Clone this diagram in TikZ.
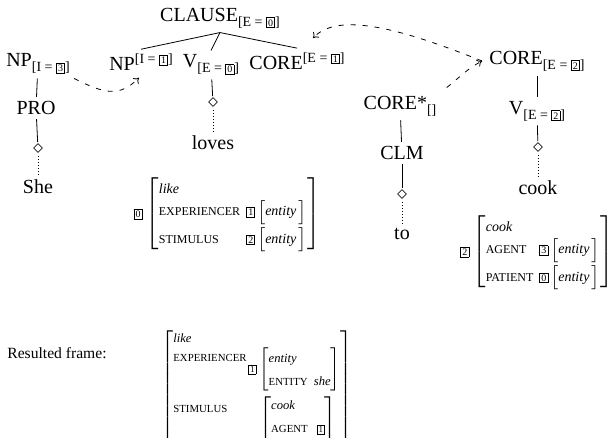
\documentclass[tikz,border=0pt]{standalone}
\usepackage{fontspec}
\setmainfont{Liberation Serif}
\usetikzlibrary{arrows.meta,positioning,calc}
\newcommand{\tg}[1]{{\setlength{\fboxsep}{0.6pt}\setlength{\fboxrule}{0.4pt}\fbox{\fontsize{5}{5}\selectfont#1}}}
\newcommand{\sub}[1]{\raisebox{-2.5pt}{\fontsize{7}{8}\selectfont#1}}
\newcommand{\supr}[1]{\raisebox{3.5pt}{\fontsize{7}{8}\selectfont#1}}
\newcommand{\attr}[1]{{\fontsize{6}{7}\selectfont#1}}
\newcommand{\val}[1]{{\fontsize{7}{8}\selectfont\itshape#1}}
\newcommand{\brk}[1]{$\left[\rule[-4.5pt]{0pt}{8pt}\right.\!$#1$\left.\rule[-4.5pt]{0pt}{8pt}\right]$}

\begin{document}
\begin{tikzpicture}[x=0.5pt, y=-0.5pt,
  lbl/.style={inner sep=2pt, font=\fontsize{10}{12}\selectfont},
  dmd/.style={inner sep=1pt, font=\fontsize{10}{12}\selectfont},
  avm/.style={inner sep=0pt, font=\fontsize{7}{13}\selectfont},
  leaf/.style={dash pattern=on 0.4pt off 1.1pt, line width=0.3pt},
  dasharr/.style={-{To[length=2.5pt,width=4pt]}, dash pattern=on 2.5pt off 3.5pt},
  >=To
]
  \useasboundingbox (0,0) rectangle (611,438);

  % Clause and its daughters
  \node[lbl] (clause) at (220,18) {CLAUSE\sub{[E = \tg{0}]}};
  \node[lbl] (np3) at (38,64) {NP\sub{[I = \tg{3}]}};
  \node[lbl] (np1) at (141,62) {NP\supr{[I = \tg{1}]}};
  \node[lbl] (v0) at (211,65) {V\sub{[E = \tg{0}]}};
  \node[lbl] (core1) at (297,61) {CORE\supr{[E = \tg{1}]}};

  % She
  \node[lbl] (pro) at (36,108) {PRO};
  \node[dmd] (d1) at (38,149) {$\diamond$};
  \node[lbl] (she) at (38,187) {She};

  % loves
  \node[dmd] (dv) at (213,103) {$\diamond$};
  \node[lbl] (loves) at (213,143) {loves};

  % embedded core
  \node[lbl] (corestar) at (400,106) {CORE*\sub{[]}};
  \node[lbl] (clm) at (402,153) {CLM};
  \node[dmd] (d3) at (402,195) {$\diamond$};
  \node[lbl] (to) at (402,234) {to};

  \node[lbl] (core2) at (537,61) {CORE\sub{[E = \tg{2}]}};
  \node[lbl] (v2) at (537,111) {V\sub{[E = \tg{2}]}};
  \node[dmd] (d2) at (538,148) {$\diamond$};
  \node[lbl] (cook) at (538,188) {cook};

  % Frames
  \node[avm] (frm0) at (227,214) {\tg{0}\hspace{1.5pt}$\left[\begin{tabular}{@{}l@{\hspace{3pt}}l@{}}
      \val{like} & \\[-2pt]
      \attr{EXPERIENCER} & \tg{1}\hspace{1pt}\brk{\val{entity}} \\
      \attr{STIMULUS} & \tg{2}\hspace{1pt}\brk{\val{entity}}
    \end{tabular}\right]$};
  \node[avm] (frm2) at (537,252) {\tg{2}\hspace{1.5pt}$\left[\begin{tabular}{@{}l@{\hspace{3pt}}l@{}}
      \val{cook} & \\[-2pt]
      \attr{AGENT} & \tg{3}\hspace{1pt}\brk{\val{entity}} \\
      \attr{PATIENT} & \tg{0}\hspace{1pt}\brk{\val{entity}}
    \end{tabular}\right]$};

  % Resulted frame
  \node[lbl, anchor=west, font=\fontsize{7.8}{9}\selectfont] (res) at (3,353) {Resulted frame:};
  \node[avm, anchor=north west, scale=0.9, transform shape] (frmres) at (161,326) {$\left[\begin{tabular}{@{}l@{\hspace{7pt}}l@{}}
      \val{like} & \\[-2pt]
      \raisebox{6.5pt}[0pt][0pt]{\attr{EXPERIENCER}} & \llap{\tg{1}\hspace{1.5pt}}$\left[\begin{tabular}{@{}l@{\hspace{3.5pt}}l@{}}
          \val{entity} & \\
          \attr{ENTITY} & \val{she}
        \end{tabular}\right]$ \\
      \raisebox{11pt}[0pt][0pt]{\attr{STIMULUS}} & $\left[\begin{tabular}{@{}l@{\hspace{5pt}}l@{}}
          \val{cook} & \\
          \attr{AGENT} & \tg{1} \\
          \rule{0pt}{10pt} &
        \end{tabular}\right]$
    \end{tabular}\right]$};

  % Tree edges
  \draw (clause.south) -- (np1.north);
  \draw (clause.south) -- (v0.north);
  \draw (clause.south) -- (core1.north);
  \draw (np3) -- (pro);
  \draw (pro) -- (d1);
  \draw[leaf] (d1) -- (she);
  \draw (v0) -- (dv);
  \draw[leaf] (dv) -- (loves);
  \draw (corestar) -- (clm);
  \draw (clm) -- (d3);
  \draw[leaf] (d3) -- (to);
  \draw (core2) -- (v2);
  \draw (v2) -- (d2);
  \draw[leaf] (d2) -- (cook);

  % Links
  \draw[dasharr] (np3.south east) .. controls +(30,15) and +(-20,20) .. ($(np1.south)+(-2,3)$);
  \draw[dasharr] ($(corestar.north east)+(6,-4)$) .. controls +(15,-12) and +(-15,8) .. ($(core2.west)+(-3,0)$);
  \draw[dasharr] ($(core2.west)+(-3,0)$) .. controls +(-80,-32) and +(25,-27) .. ($(core1.north)+(16,-10)$);
\end{tikzpicture}
\end{document}
